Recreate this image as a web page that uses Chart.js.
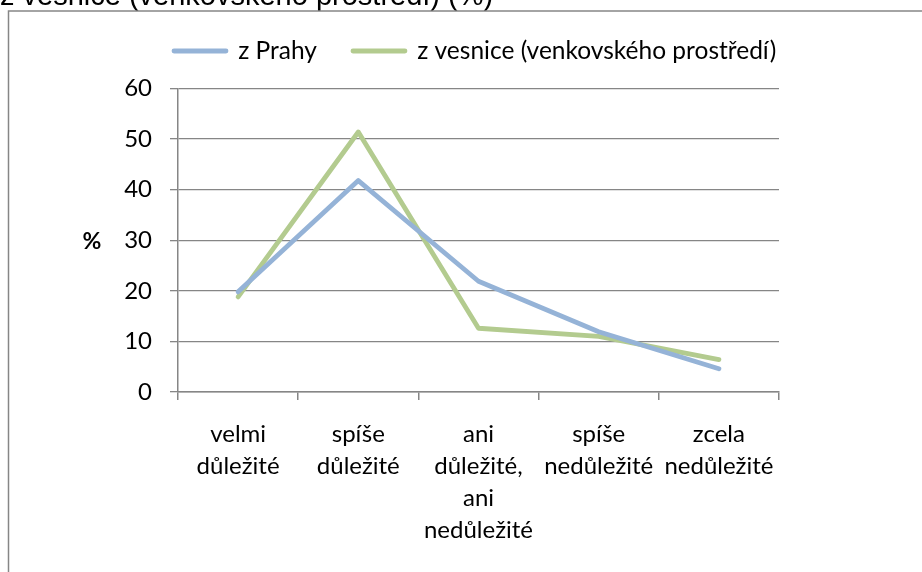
<!DOCTYPE html>
<html>
<head>
<meta charset="utf-8">
<script src="https://cdn.jsdelivr.net/npm/chart.js@4"></script>
<style>
  html, body { margin: 0; padding: 0; background: #fff; }
  canvas { display: block; }
</style>
</head>
<body>
<canvas id="chart" width="922" height="572"></canvas>
<script>
const categories = [
    ['velmi', 'důležité'],
    ['spíše', 'důležité'],
    ['ani', 'důležité,', 'ani', 'nedůležité'],
    ['spíše', 'nedůležité'],
    ['zcela', 'nedůležité']
];
const seriesNames = ['z Prahy', 'z vesnice (venkovského prostředí)'];
const prahaValues = [19.8, 41.8, 21.9, 11.9, 4.6];
const vesniceValues = [18.8, 51.4, 12.6, 11.0, 6.4];
const yTicks = [0, 10, 20, 30, 40, 50, 60];
const pageTitle = 'z vesnice (venkovského prostředí) (%)';
const yTitle = '%';

const gray = '#868686';
const blue = '#95B3D7';
const green = '#B3CB8F';
const font = 'Lato';

Chart.defaults.color = '#000';
Chart.defaults.font.family = font;

// title above the frame, frame, legend placement and "%" label
const decor = {
    id: 'decor',
    beforeInit(chart) {
        const fit = chart.legend.fit;
        chart.legend.fit = function () {
            fit.call(this);
            this.height += 18;
        };
    },
    afterLayout(chart) {
        // legend sits a little right of the plot centre, as in Excel
        const lg = chart.legend;
        const p = lg.options.labels.padding;
        const start = (lg.left + p + lg.right - lg.lineWidths[0]) / 2;
        const dx = 174 - start;
        lg.left += dx;
        lg.right += dx;
        lg.top += 51 - (lg.top + p + lg.options.labels.font.size / 2);
    },
    beforeDraw(chart) {
        const ctx = chart.ctx;
        ctx.save();
        ctx.fillStyle = '#fff';
        ctx.fillRect(0, 0, chart.width, chart.height);
        ctx.fillStyle = '#000';
        ctx.font = '29px "Liberation Sans"';
        ctx.textBaseline = 'alphabetic';
        ctx.fillText(pageTitle, 0, 5);
        ctx.fillStyle = '#fff';
        ctx.fillRect(8, 11, chart.width, chart.height);
        ctx.strokeStyle = gray;
        ctx.lineWidth = 1.5;
        ctx.strokeRect(8.5, 11, chart.width + 20, chart.height + 20);
        ctx.restore();
    },
    afterDraw(chart) {
        const ctx = chart.ctx;
        const area = chart.chartArea;
        ctx.save();
        ctx.fillStyle = '#000';
        ctx.font = 'bold 23px ' + font;
        ctx.textAlign = 'center';
        ctx.textBaseline = 'middle';
        ctx.fillText(yTitle, 92, (area.top + area.bottom) / 2 + 1);
        ctx.restore();
    }
};

new Chart(document.getElementById('chart'), {
    type: 'line',
    data: {
        labels: categories,
        datasets: [{
            label: seriesNames[0],
            data: prahaValues,
            borderColor: blue,
            backgroundColor: blue,
            borderWidth: 4.8,
            borderCapStyle: 'round',
            borderJoinStyle: 'round',
            pointRadius: 0,
            pointHoverRadius: 0,
            tension: 0
        }, {
            label: seriesNames[1],
            data: vesniceValues,
            borderColor: green,
            backgroundColor: green,
            borderWidth: 4.8,
            borderCapStyle: 'round',
            borderJoinStyle: 'round',
            pointRadius: 0,
            pointHoverRadius: 0,
            tension: 0
        }]
    },
    options: {
        responsive: false,
        animation: false,
        layout: {
            padding: { left: 20, right: 143, top: 0, bottom: 0 }
        },
        plugins: {
            tooltip: { enabled: false },
            legend: {
                display: true,
                position: 'top',
                labels: {
                    usePointStyle: true,
                    pointStyle: 'line',
                    pointStyleWidth: 52,
                    padding: 36,
                    font: { size: 24.5, family: font },
                    color: '#000',
                    generateLabels(chart) {
                        return chart.data.datasets.map((ds, i) => ({
                            text: ds.label,
                            datasetIndex: i,
                            pointStyle: 'line',
                            strokeStyle: ds.borderColor,
                            fillStyle: ds.borderColor,
                            lineWidth: 4.8,
                            lineCap: 'round',
                            fontColor: '#000',
                            hidden: false
                        }));
                    }
                }
            }
        },
        scales: {
            x: {
                type: 'category',
                offset: true,
                afterFit(scale) { scale.height = 180; },
                grid: {
                    offset: true,
                    drawOnChartArea: false,
                    drawTicks: true,
                    tickLength: 8,
                    color: gray,
                    lineWidth: 1.5
                },
                border: { color: gray, width: 1.5 },
                ticks: {
                    autoSkip: false,
                    maxRotation: 0,
                    minRotation: 0,
                    padding: 18,
                    color: '#000',
                    font: { size: 24, family: font, lineHeight: 1.333 }
                }
            },
            y: {
                min: yTicks[0],
                max: yTicks[yTicks.length - 1],
                afterFit(scale) { scale.width = 178 - 20; },
                afterBuildTicks(scale) {
                    scale.ticks = yTicks.map(v => ({ value: v }));
                },
                grid: {
                    drawTicks: true,
                    tickLength: 8,
                    color: gray,
                    lineWidth: 1.3
                },
                border: { color: gray, width: 1.5 },
                ticks: {
                    padding: 18,
                    color: '#000',
                    font: { size: 24, family: font }
                }
            }
        }
    },
    plugins: [decor]
});
</script>
</body>
</html>
